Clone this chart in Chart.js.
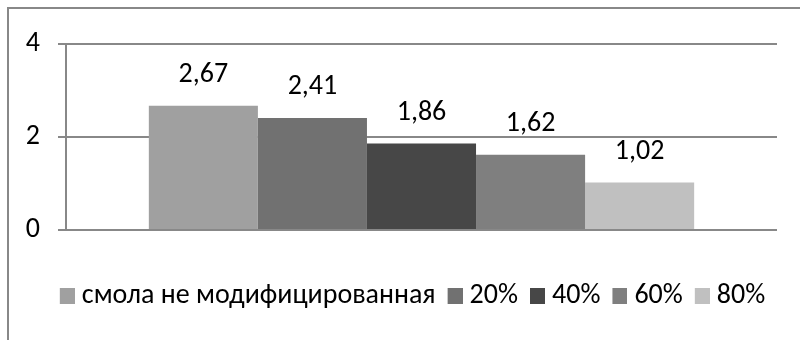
<!DOCTYPE html>
<html><head><meta charset="utf-8">
<script src="https://cdn.jsdelivr.net/npm/chart.js@4.4.1/dist/chart.umd.min.js"></script>
<style>
html,body{margin:0;padding:0;background:#fff;overflow:hidden;width:800px;height:340px;}
#frame{position:absolute;left:7px;top:7px;width:900px;height:400px;border-left:2px solid #888;border-top:2px solid #888;}
canvas{position:absolute;left:0;top:0;}
</style></head><body>
<div id="frame"></div>
<canvas id="c" width="800" height="340"></canvas>
<script>
const categories = [''];
const seriesNames = ['смола не модифицированная', '20%', '40%', '60%', '80%'];
const seriesValues = [2.67, 2.41, 1.86, 1.62, 1.02];
const yTicks = [0, 2, 4];

const colors = ['#a0a0a0', '#717171', '#474747', '#7f7f7f', '#c0c0c0'];
const FONT = "Carlito, 'Liberation Sans', sans-serif";

// legend marker: 15px square, offset so it sits 7px before the text
function marker(color) {
  const cv = document.createElement('canvas');
  cv.width = 22; cv.height = 16;
  const g = cv.getContext('2d');
  g.fillStyle = color;
  g.fillRect(7, 0, 15, 16);
  return cv;
}

const valueLabels = {
  id: 'valueLabels',
  afterDatasetsDraw(chart) {
    const ctx = chart.ctx;
    ctx.save();
    ctx.font = '28px ' + FONT;
    ctx.fillStyle = '#000';
    ctx.textAlign = 'center';
    ctx.textBaseline = 'alphabetic';
    chart.data.datasets.forEach((ds, i) => {
      const meta = chart.getDatasetMeta(i);
      meta.data.forEach((bar, j) => {
        ctx.fillText(ds.data[j].toFixed(2).replace('.', ','), bar.x, bar.y - 24);
      });
    });
    ctx.restore();
  }
};

const shiftLegend = {
  id: 'shiftLegend',
  afterLayout(chart) {
    if (chart.legend) { chart.legend.left += 24; chart.legend.right += 24; }
  }
};

new Chart(document.getElementById('c'), {
  type: 'bar',
  data: {
    labels: categories,
    datasets: seriesNames.map((name, i) => ({
      label: name,
      data: [seriesValues[i]],
      backgroundColor: colors[i],
      borderWidth: 0,
      pointStyle: marker(colors[i])
    }))
  },
  options: {
    responsive: false,
    animation: false,
    devicePixelRatio: 1,
    categoryPercentage: 0.767,
    barPercentage: 1,
    layout: { padding: { left: 0, right: 23, top: 44, bottom: 20 } },
    plugins: {
      tooltip: { enabled: false },
      legend: {
        position: 'bottom',
        labels: {
          font: { family: FONT, size: 28 },
          color: '#000',
          usePointStyle: true,
          boxWidth: 8,
          boxHeight: 16,
          pointStyleWidth: 8,
          padding: 12
        }
      }
    },
    scales: {
      x: {
        grid: { display: false },
        border: { display: false },
        ticks: { display: false },
        afterFit(scale) { scale.height = 40; }
      },
      y: {
        min: 0,
        max: 4,
        afterBuildTicks(scale) { scale.ticks = yTicks.map(v => ({ value: v })); },
        afterFit(scale) { scale.width = 66; },
        grid: { color: '#888', lineWidth: 2, tickLength: 8, drawTicks: true },
        border: { display: true, color: '#888', width: 2 },
        ticks: { font: { family: FONT, size: 28 }, color: '#000', padding: 18 }
      }
    }
  },
  plugins: [valueLabels, shiftLegend]
});
</script>
</body></html>
